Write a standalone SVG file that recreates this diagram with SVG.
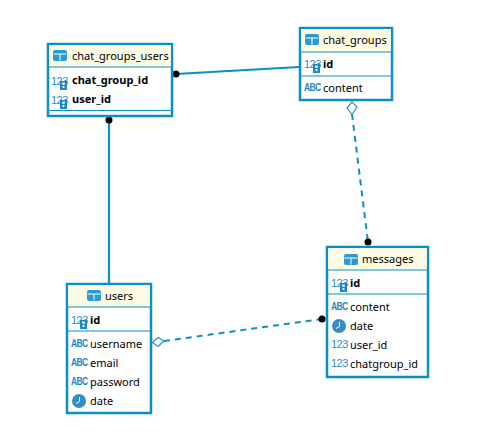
<svg xmlns="http://www.w3.org/2000/svg" xmlns:xlink="http://www.w3.org/1999/xlink" width="487" height="439" viewBox="0 0 487 439">
<style>
.box{fill:#fff;stroke:#0a8fc7;stroke-width:2.5}
.hd{fill:#fdfbe3}
.sep{stroke:#0a8fc7;stroke-width:1;fill:none}
.t{font-family:"Noto Sans","Open Sans",sans-serif;font-size:11px;fill:#000}
.b{font-weight:700;fill:#000}
.n{font-family:"Liberation Sans",sans-serif;font-size:11px;fill:#2a8fc9;letter-spacing:-.5px}
.a{font-family:"Liberation Sans",sans-serif;font-size:8.5px;font-weight:700;fill:#1f87c4;letter-spacing:-.6px}
.line{stroke:#0a8fc7;stroke-width:2.2;fill:none}
.dash{stroke:#0a8fc7;stroke-width:2;stroke-dasharray:6 5;fill:none}
.dot{fill:#000}
.dia{fill:#fff;stroke:#2a8fc9;stroke-width:1.2}
.clk{fill:#3a8cc8}
.hand{stroke:#fff;stroke-width:1;fill:none}
.key{fill:#1f87c4}
.keyh{fill:#fff}
.ti{fill:#2a9ad6}
.tl{stroke:#fff;stroke-width:1;fill:none}
</style>
<defs>
<g id="tbl"><rect x="0" y="0" width="14" height="11" rx="2" class="ti"/><path d="M0.5 4H13.5M7 4V10.500" class="tl"/></g>
<g id="kk"><rect x="0" y="0" width="7" height="9" class="key"/><rect x="2.300" y="1.600" width="2.400" height="2.200" class="keyh"/><rect x="2.600" y="5" width="1.800" height="2" class="keyh"/></g>
<g id="clock"><circle cx="7" cy="7" r="7" class="clk"/><path d="M7.500 3V7.500L4 9.500" class="hand"/></g>
</defs>

<g id="connectors">
<line x1="176" y1="74" x2="299" y2="67" class="line"/>
<line x1="109" y1="120" x2="109" y2="284" class="line"/>
<line x1="352" y1="114" x2="368" y2="242" class="dash"/>
<line x1="164" y1="341" x2="322" y2="319" class="dash"/>
<circle cx="176" cy="74" r="3.500" class="dot"/>
<circle cx="109" cy="120" r="3.500" class="dot"/>
<circle cx="368" cy="242" r="3.500" class="dot"/>
<circle cx="322" cy="319" r="3.500" class="dot"/>
<path d="M352 102L357 107L352 114.500L347 108Z" class="dia"/>
<path d="M152.500 342.500L158 337.500L164 341L158 346.500Z" class="dia"/>
</g>

<g id="chat_groups_users">
<rect x="48" y="44" width="124" height="72" class="box"/>
<rect x="49.200" y="45.200" width="121.600" height="21.800" class="hd"/>
<path d="M48 67H172M48 110.500H172" class="sep"/>
<use xlink:href="#tbl" href="#tbl" x="53" y="50"/>
<text x="72" y="60" class="t">chat_groups_users</text>
<text x="51" y="85" class="n">123</text><use xlink:href="#kk" href="#kk" x="60" y="81"/>
<text x="72" y="84" class="t b">chat_group_id</text>
<text x="51" y="104" class="n">123</text><use xlink:href="#kk" href="#kk" x="60" y="100"/>
<text x="72" y="103" class="t b">user_id</text>
</g>

<g id="chat_groups">
<rect x="300" y="28" width="92" height="72" class="box"/>
<rect x="301.200" y="29.200" width="89.600" height="22.800" class="hd"/>
<path d="M300 52H392M300 76H392" class="sep"/>
<use xlink:href="#tbl" href="#tbl" x="305" y="34"/>
<text x="323" y="44" class="t">chat_groups</text>
<text x="304" y="68" class="n">123</text><use xlink:href="#kk" href="#kk" x="313" y="64"/>
<text x="323" y="68" class="t b">id</text>
<text transform="translate(304 91) scale(1 1.25)" class="a">ABC</text>
<text x="323" y="92" class="t">content</text>
</g>

<g id="users">
<rect x="67" y="284" width="84" height="129" class="box"/>
<rect x="68.200" y="285.200" width="81.600" height="21.800" class="hd"/>
<path d="M67 307H151M67 331H151" class="sep"/>
<use xlink:href="#tbl" href="#tbl" x="87" y="290"/>
<text x="105" y="300" class="t">users</text>
<text x="71" y="324" class="n">123</text><use xlink:href="#kk" href="#kk" x="80" y="320"/>
<text x="90" y="324" class="t b">id</text>
<text transform="translate(71 347) scale(1 1.25)" class="a">ABC</text><text x="90" y="348" class="t">username</text>
<text transform="translate(71 366) scale(1 1.25)" class="a">ABC</text><text x="90" y="367" class="t">email</text>
<text transform="translate(71 385) scale(1 1.25)" class="a">ABC</text><text x="90" y="386" class="t">password</text>
<use xlink:href="#clock" href="#clock" x="72" y="394"/>
<text x="90" y="405" class="t">date</text>
</g>

<g id="messages">
<rect x="327" y="247" width="101" height="130" class="box"/>
<rect x="328.200" y="248.200" width="98.600" height="21.800" class="hd"/>
<path d="M327 270H428M327 294H428" class="sep"/>
<use xlink:href="#tbl" href="#tbl" x="344" y="254"/>
<text x="362" y="263" class="t">messages</text>
<text x="331" y="287" class="n">123</text><use xlink:href="#kk" href="#kk" x="340" y="283"/>
<text x="350" y="287" class="t b">id</text>
<text transform="translate(331 310) scale(1 1.25)" class="a">ABC</text><text x="350" y="311" class="t">content</text>
<use xlink:href="#clock" href="#clock" x="332" y="319"/>
<text x="350" y="330" class="t">date</text>
<text x="331" y="348" class="n">123</text><text x="350" y="349" class="t">user_id</text>
<text x="331" y="367" class="n">123</text><text x="350" y="368" class="t">chatgroup_id</text>
</g>
</svg>
